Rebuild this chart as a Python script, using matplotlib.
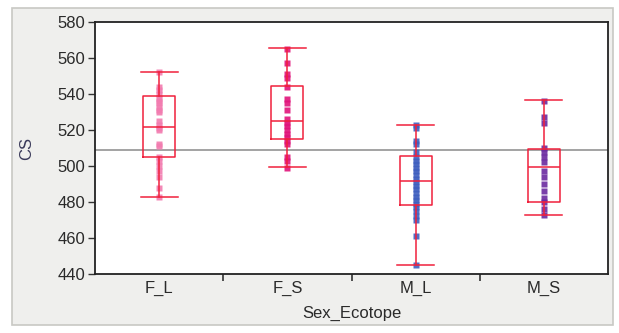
import matplotlib.pyplot as plt
from matplotlib.patches import Rectangle

# groups along x
groups = ["F_L", "F_S", "M_L", "M_S"]
point_colors = ["#f27cb0", "#e0147a", "#3f5fbf", "#6a2aa0"]

# raw points
pts_FL = [552, 544, 542, 540, 538, 536, 535, 533, 531, 530, 525, 523, 521, 520,
          512, 511, 505, 503, 500, 497, 494, 488, 483]
pts_FS = [565, 557, 551, 549, 544, 537, 535, 531, 526, 524, 522, 520, 518, 516,
          514, 512, 505, 503, 499]
pts_ML = [523, 521, 514, 512, 508, 505, 503, 501, 499, 497, 495, 493, 491, 489,
          487, 485, 483, 481, 479, 477, 475, 472, 470, 461, 445]
pts_MS = [536, 527, 524, 510, 508, 505, 502, 497, 494, 490, 486, 482, 480, 476, 473]
points = [pts_FL, pts_FS, pts_ML, pts_MS]

# box stats as drawn in the picture
whis_hi = [552, 565.5, 523, 536.5]
q3 = [539, 544.5, 505.5, 509.5]
median = [521.5, 525, 491.5, 499.5]
q1 = [505, 515, 478.5, 480]
whis_lo = [483, 499.5, 445, 473]
grand_mean = 508.8

fig = plt.figure(figsize=(6.19, 3.33), dpi=100)
fig.patch.set_facecolor("white")
# gray panel behind the plot like the JMP window
bg = Rectangle((12/619, 8/333), 601/619, 317/333, transform=fig.transFigure,
               facecolor="#efefed", edgecolor="#c8c8c4", lw=1.2, zorder=-10)
fig.patches.append(bg)

ax = fig.add_axes([95/619, 59/333, 513/619, 252/333])
ax.set_zorder(5)
ax.set_facecolor("white")

pos = list(range(1, len(groups) + 1))
for i, vals in enumerate(points):
    ax.plot([pos[i]] * len(vals), vals, "s", ms=4, color=point_colors[i],
            mec="none", alpha=0.9, zorder=3)

stats = []
for i in range(len(groups)):
    stats.append({"med": median[i], "q1": q1[i], "q3": q3[i],
                  "whislo": whis_lo[i], "whishi": whis_hi[i], "fliers": []})
red = "#f0203c"
ax.bxp(stats, positions=pos, widths=0.25, showfliers=False, patch_artist=False,
       boxprops=dict(color=red, lw=1.1), medianprops=dict(color=red, lw=1.1),
       whiskerprops=dict(color=red, lw=1.1), capprops=dict(color=red, lw=1.1),
       capwidths=0.29, manage_ticks=False, zorder=4)

ax.axhline(grand_mean, color="#8a8a8a", lw=1.1, zorder=2)

ax.set_xlim(0.5, 4.5)
ax.set_ylim(440, 580)
ax.set_yticks(range(440, 581, 20))
ax.set_xticks(pos)
ax.set_xticklabels(groups)
ax.set_xticks([1.5, 2.5, 3.5], minor=True)
ax.tick_params(axis="x", which="major", length=0, pad=5)
ax.tick_params(axis="x", which="minor", length=5, width=1.2, color="#333333", direction="out")
ax.tick_params(axis="y", length=5, width=1, color="#333333", pad=2)
for lab in ax.get_xticklabels() + ax.get_yticklabels():
    lab.set_fontfamily("Liberation Sans")
    lab.set_fontsize(12)
    lab.set_color("#2a2a2a")

for s in ax.spines.values():
    s.set_color("#222222")
    s.set_linewidth(1.3)

ax.set_ylabel("CS", fontsize=12, fontfamily="Liberation Sans", color="#3a3a5a", labelpad=17)
ax.set_xlabel("Sex_Ecotope", fontsize=12, fontfamily="Liberation Sans", color="#2a2a2a", labelpad=7)

fig.savefig("out.png", dpi=100)
